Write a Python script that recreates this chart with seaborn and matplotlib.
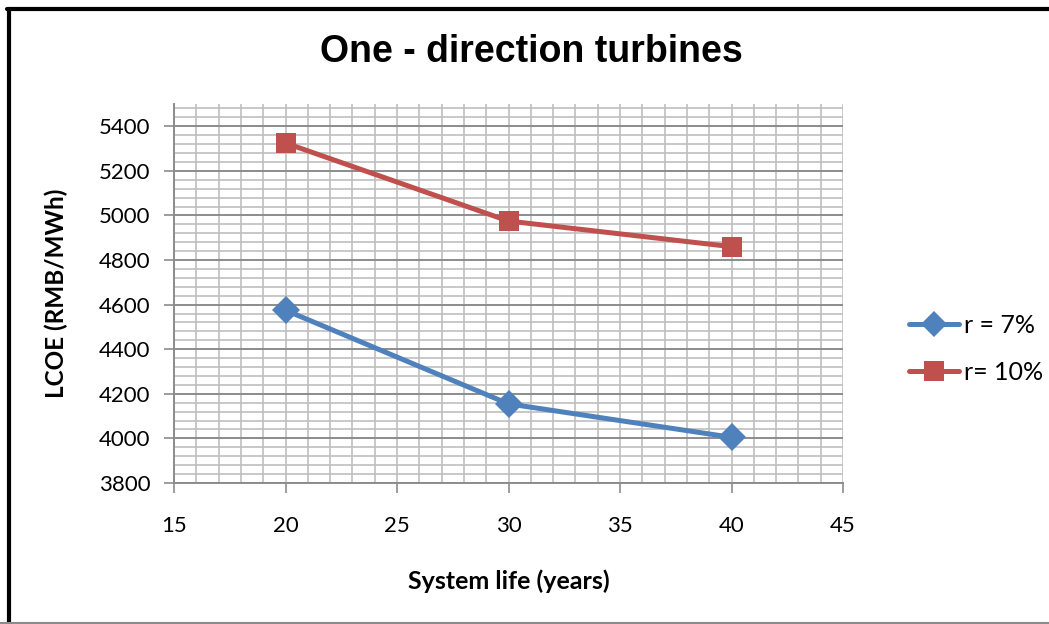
import numpy as np
import pandas as pd
import matplotlib
matplotlib.use("Agg")
import matplotlib.pyplot as plt
from matplotlib.lines import Line2D
from matplotlib.ticker import MultipleLocator, FixedLocator
import seaborn as sns

# System life (years) and levelised cost of energy (RMB/MWh)
life_years = [20, 30, 40]
lcoe_r7 = [4575, 4155, 4005]
lcoe_r10 = [5325, 4975, 4860]
series_names = ["r = 7%", "r= 10%"]

df = pd.DataFrame({
    "life": life_years * 2,
    "lcoe": lcoe_r7 + lcoe_r10,
    "series": [series_names[0]] * 3 + [series_names[1]] * 3,
})

sns.set_theme(style="white")
plt.rcParams["font.family"] = ["Lato", "DejaVu Sans"]
plt.rcParams["text.color"] = "black"
plt.rcParams["axes.labelcolor"] = "black"

fig = plt.figure(figsize=(10.49, 6.24), dpi=100)
ax = fig.add_axes([174 / 1049, 1 - 483 / 624, (843 - 174) / 1049, (483 - 104) / 624])

blue, red = "#4F81BD", "#C0504D"
palette = {series_names[0]: blue, series_names[1]: red}
markers = {series_names[0]: "D", series_names[1]: "s"}
sns.lineplot(data=df, x="life", y="lcoe", hue="series", style="series",
             palette=palette, markers=markers, dashes=False, linewidth=3.6,
             markersize=14, markeredgewidth=0, ax=ax, legend=False, zorder=5)

ax.set_xlim(15, 45)
ax.set_ylim(3800, 5500)
ax.xaxis.set_major_locator(MultipleLocator(5))
ax.xaxis.set_minor_locator(MultipleLocator(1))
ax.yaxis.set_major_locator(FixedLocator(np.arange(3800, 5401, 200)))
ax.yaxis.set_minor_locator(MultipleLocator(40))

ax.grid(which="major", axis="y", color="#8c8c8c", linewidth=1.4)
ax.grid(which="minor", axis="y", color="#bfbfbf", linewidth=1.2)
ax.grid(which="both", axis="x", color="#bfbfbf", linewidth=1.2)
ax.set_axisbelow(True)

for side in ["top", "right"]:
    ax.spines[side].set_visible(False)
for side in ["left", "bottom"]:
    ax.spines[side].set_color("#8c8c8c")
    ax.spines[side].set_linewidth(1.4)

ax.tick_params(axis="both", which="major", direction="out", length=7, width=1.2,
               color="#8c8c8c", labelsize=16, labelcolor="black",
               bottom=True, left=True)
ax.tick_params(axis="x", which="major", pad=17)
ax.tick_params(axis="y", which="major", pad=10)
ax.tick_params(axis="both", which="minor", length=0)

ax.set_xlabel("System life (years)", fontsize=18, fontweight="bold", labelpad=24)
ax.set_ylabel("LCOE (RMB/MWh)", fontsize=17.5, fontweight="bold", labelpad=22)

fig.text(0.507, 1 - 52 / 624, "One - direction turbines", ha="center", va="center",
         fontsize=27, fontweight="bold", family=["Liberation Sans", "DejaVu Sans"])

handles = [
    Line2D([], [], color=blue, marker="D", markersize=13, linewidth=3.6,
           markeredgewidth=0),
    Line2D([], [], color=red, marker="s", markersize=14, linewidth=3.6,
           markeredgewidth=0),
]
fig.legend(handles, series_names, loc="center left",
           bbox_to_anchor=(886 / 1049, 1 - 349 / 624), frameon=False,
           prop={"size": 18}, handlelength=2.0, handletextpad=0.2,
           labelspacing=0.95)

# Chart frame
fig.add_artist(Line2D([8.5 / 1049, 8.5 / 1049], [0, 1 - 8.5 / 624],
                      transform=fig.transFigure, color="black", linewidth=3))
fig.add_artist(Line2D([7 / 1049, 1], [1 - 8.5 / 624, 1 - 8.5 / 624],
                      transform=fig.transFigure, color="black", linewidth=3))
fig.add_artist(Line2D([0, 1], [1.5 / 624, 1.5 / 624],
                      transform=fig.transFigure, color="#8c8c8c", linewidth=1.5))

fig.savefig("out.png", dpi=100, facecolor="white")
